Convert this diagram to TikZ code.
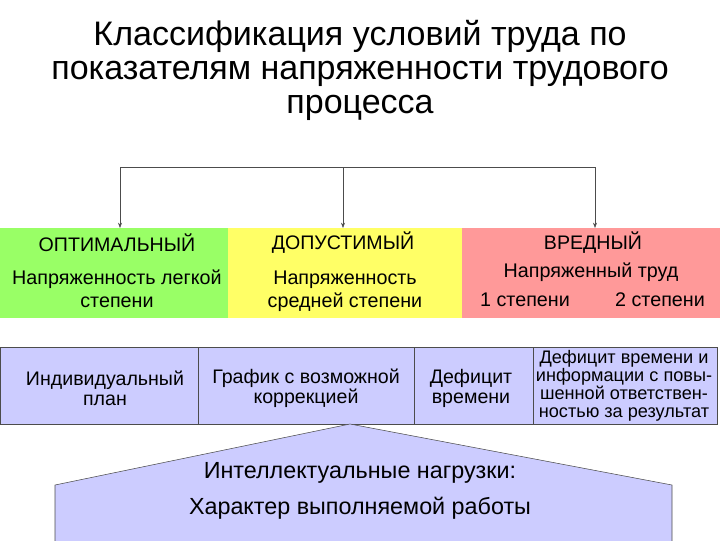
\documentclass[tikz,border=0pt]{standalone}
\usepackage{fontspec}
\setmainfont{Liberation Sans}
\usetikzlibrary{arrows.meta,positioning}
\definecolor{optgreen}{RGB}{153,255,102}
\definecolor{admyellow}{RGB}{255,255,102}
\definecolor{harmpink}{RGB}{255,153,153}
\definecolor{lavender}{RGB}{204,204,255}
\tikzset{
  band/.style={inner sep=0pt, minimum height=67.5pt},
  head/.style={font=\fontsize{14.7}{16}\selectfont},
  bandtext/.style={font=\fontsize{14.8}{17}\selectfont, align=center},
  cell/.style={draw=black!70, fill=lavender, inner sep=0pt, minimum height=57.75pt},
  celltext/.style={align=center, font=\fontsize{14.7}{15}\selectfont},
  link/.style={thin, black!70, -{Stealth[length=4pt,width=3pt]}}
}
\begin{document}
\begin{tikzpicture}[x=0.75pt,y=-0.75pt]
\useasboundingbox (0,0) rectangle (720,540);

% title
\node[font=\fontsize{25.5}{25.5}\selectfont, align=center] (title) at (360,70)
  {Классификация условий труда по\\показателям напряженности трудового\\процесса};

% bands
\node[band, fill=optgreen, minimum width=171pt, anchor=north west] (opt) at (0,228) {};
\node[band, fill=admyellow, minimum width=175.5pt, anchor=north west] (adm) at (228,228) {};
\node[band, fill=harmpink, minimum width=193.5pt, anchor=north west] (harm) at (462,228) {};

\node[head] (optH) at (117,243) {ОПТИМАЛЬНЫЙ};
\node[bandtext] (optT) at (117,289) {Напряженность легкой\\степени};
\node[head] (admH) at (343,243) {ДОПУСТИМЫЙ};
\node[bandtext] (admT) at (345,291) {Напряженность\\средней степени};
\node[head] (harmH) at (593,243) {ВРЕДНЫЙ};
\node[bandtext] (harmT) at (591,272) {Напряженный труд};
\node[bandtext] (harm1) at (525,300) {1 степени};
\node[bandtext] (harm2) at (660,300) {2 степени};

% connectors
\coordinate (j1) at (120,167);
\coordinate (j2) at (343,167);
\coordinate (j3) at (595,167);
\draw[thin, black!70] (j1) -- (j3);
\draw[link] (j1) -- (j1 |- opt.north);
\draw[link] (j2) -- (j2 |- adm.north);
\draw[link] (j3) -- (j3 |- harm.north);

% table
\node[cell, minimum width=148.5pt, anchor=north west] (plan) at (0,347) {};
\node[cell, minimum width=162pt, anchor=north west] (graph) at (198,347) {};
\node[cell, minimum width=89.25pt, anchor=north west] (defic) at (414,347) {};
\node[cell, minimum width=138pt, anchor=north west] (resp) at (533,347) {};
\node[celltext] (planT) at (105,388) {Индивидуальный\\план};
\node[celltext] (graphT) at (306,388) {График с возможной\\коррекцией};
\node[celltext] (deficT) at (471,388) {Дефицит\\времени};
\node[celltext, font=\fontsize{13.6}{13.6}\selectfont] (respT) at (624,386)
  {Дефицит времени и\\информации с повы-\\шенной ответствен-\\ностью за результат};

% load shape
\draw[black!70, fill=lavender] (55,560) -- (55,485) -- (350,424) -- (672,485) -- (672,560);
\node[font=\fontsize{17.5}{16}\selectfont] (loadH) at (360,473) {Интеллектуальные нагрузки:};
\node[font=\fontsize{17.5}{16}\selectfont] (loadT) at (360,508) {Характер выполняемой работы};
\end{tikzpicture}
\end{document}
